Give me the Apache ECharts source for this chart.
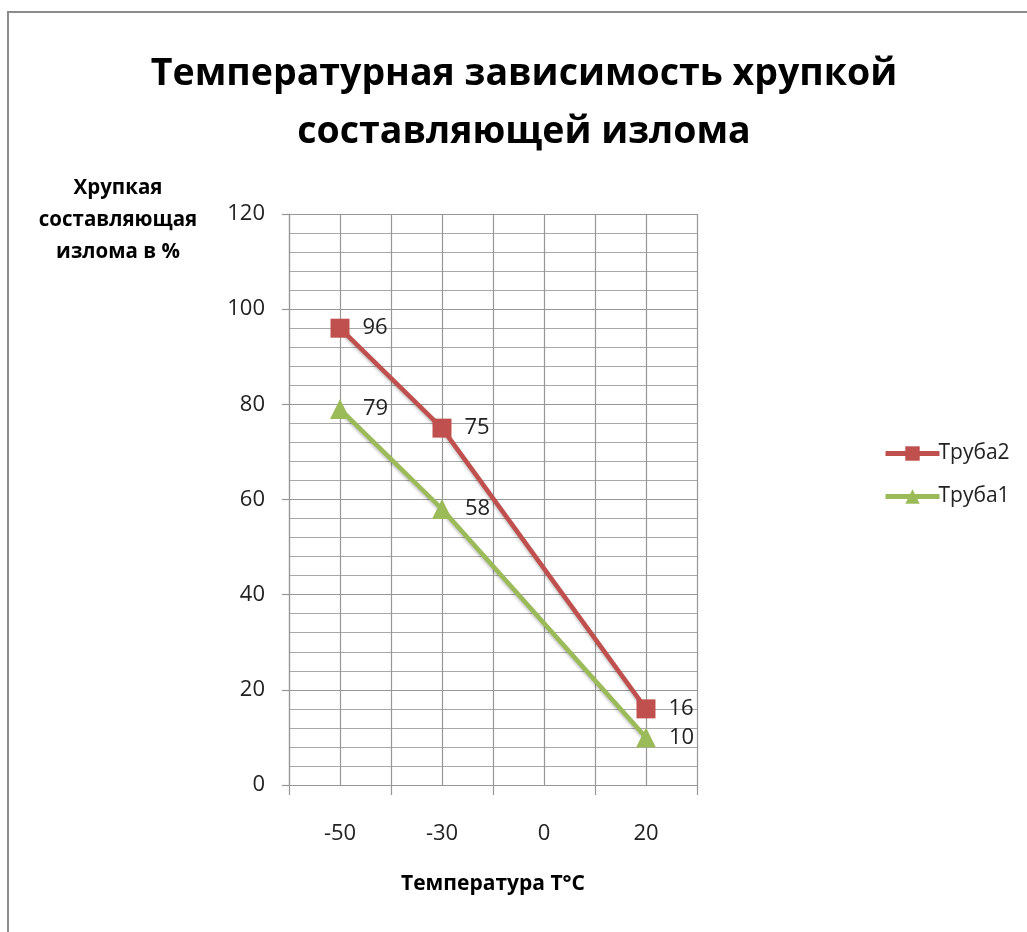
<!DOCTYPE html>
<html>
<head>
<meta charset="utf-8">
<script src="https://cdn.jsdelivr.net/npm/echarts@6/dist/echarts.min.js"></script>
<style>
  html, body { margin: 0; padding: 0; background: #fff; }
  #chart { width: 1027px; height: 932px; }
</style>
</head>
<body>
<div id="chart"></div>
<script>
// Temperature categories (°C) and brittle fracture share (%) for two pipes
const temperatures = ['-50', '-30', '0', '20'];
const pipe2 = [96, 75, null, 16];
const pipe1 = [79, 58, null, 10];
const yTicks = { min: 0, max: 120, interval: 20 };

const RED = '#C0504D';
const GREEN = '#9BBB59';
const GRID = '#979797';
const FONT = '"Open Sans", "Noto Sans", sans-serif';

const chart = echarts.init(document.getElementById('chart'), null, { renderer: 'canvas' });

const labelStyle = {
  show: true,
  position: 'right',
  distance: 13,
  fontFamily: FONT,
  fontSize: 22,
  color: '#222'
};

chart.setOption({
  backgroundColor: '#fff',
  animation: false,
  title: {
    text: 'Температурная зависимость хрупкой\nсоставляющей излома',
    left: 519,
    top: 40,
    textAlign: 'center',
    textStyle: {
      fontFamily: FONT,
      fontWeight: 'bold',
      fontSize: 37.5,
      lineHeight: 58,
      color: '#000'
    }
  },
  legend: {
    orient: 'vertical',
    left: 878,
    top: 438,
    itemGap: 22,
    itemWidth: 54,
    itemHeight: 18,
    data: ['Труба2', 'Труба1'],
    lineStyle: { width: 5 },
    textStyle: { fontFamily: FONT, fontSize: 21, color: '#222', padding: [0, 0, 0, -6] }
  },
  grid: { left: 289, top: 214, width: 408, height: 571 },
  xAxis: [
    {
      type: 'category',
      data: temperatures,
      boundaryGap: true,
      axisLine: { show: true, lineStyle: { color: GRID, width: 1.2 } },
      axisTick: { show: true, length: 10, lineStyle: { color: GRID, width: 1.2 } },
      axisLabel: { fontFamily: FONT, fontSize: 22, color: '#222', margin: 38 },
      splitLine: { show: false }
    },
    {
      // helper axis: vertical grid lines at every half category
      type: 'value',
      min: 0, max: 8, interval: 1,
      position: 'bottom',
      show: true,
      axisLine: { show: false },
      axisTick: { show: false },
      axisLabel: { show: false },
      splitLine: { show: true, lineStyle: { color: GRID, width: 1.2 } }
    }
  ],
  yAxis: {
    type: 'value',
    min: yTicks.min,
    max: yTicks.max,
    interval: yTicks.interval,
    axisLine: { show: true, lineStyle: { color: GRID, width: 1.2 } },
    axisTick: { show: true, length: 7, lineStyle: { color: GRID, width: 1.2 } },
    axisLabel: { fontFamily: FONT, fontSize: 22, color: '#222', margin: 24 },
    splitLine: { show: true, lineStyle: { color: GRID, width: 1.2 } },
    minorTick: { show: false, splitNumber: 5 },
    minorSplitLine: { show: true, lineStyle: { color: '#a8a8a8', width: 1.2 } }
  },
  graphic: [
    {
      type: 'rect',
      shape: { x: 8, y: 12, width: 1040, height: 940 },
      style: { fill: null, stroke: '#8c8c8c', lineWidth: 2 },
      silent: true
    },
    {
      type: 'text',
      style: {
        text: 'Хрупкая\nсоставляющая\nизлома в %',
        x: 118, y: 172,
        textAlign: 'center',
        fontFamily: FONT,
        fontWeight: 'bold',
        fontSize: 20.5,
        lineHeight: 32,
        fill: '#000'
      }
    },
    {
      type: 'text',
      style: {
        text: 'Температура Т°С',
        x: 493, y: 874,
        textAlign: 'center',
        fontFamily: FONT,
        fontWeight: 'bold',
        fontSize: 21,
        fill: '#000'
      }
    }
  ],
  series: [
    {
      name: 'Труба2',
      type: 'line',
      data: pipe2,
      connectNulls: true,
      symbol: 'rect',
      symbolSize: 19,
      lineStyle: { color: RED, width: 4.5, shadowColor: 'rgba(0,0,0,0.25)', shadowBlur: 3, shadowOffsetY: 2 },
      itemStyle: { color: RED },
      label: labelStyle,
      z: 3
    },
    {
      name: 'Труба1',
      type: 'line',
      data: pipe1,
      connectNulls: true,
      symbol: 'triangle',
      symbolSize: 20,
      lineStyle: { color: GREEN, width: 4.5, shadowColor: 'rgba(0,0,0,0.25)', shadowBlur: 3, shadowOffsetY: 2 },
      itemStyle: { color: GREEN },
      label: labelStyle,
      z: 2
    }
  ]
});
</script>
</body>
</html>
